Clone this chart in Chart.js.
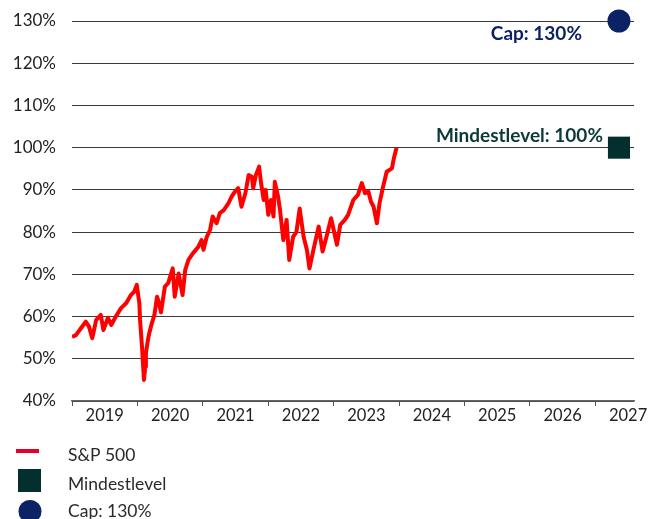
<!DOCTYPE html>
<html>
<head>
<meta charset="utf-8">
<script src="https://cdn.jsdelivr.net/npm/chart.js@4.4.1/dist/chart.umd.min.js"></script>
<style>
  html, body { margin: 0; padding: 0; background: #fff; }
  #wrap { width: 651px; height: 519px; position: relative; }
</style>
</head>
<body>
<div id="wrap"><canvas id="chart"></canvas></div>
<script>
// S&P 500: x in fractional years, y in % of the end level
const spxDates = [
  2019.00, 2019.06, 2019.14, 2019.21, 2019.26, 2019.31, 2019.37, 2019.44, 2019.48, 2019.55,
  2019.60, 2019.67, 2019.75, 2019.83, 2019.90, 2019.95, 2019.99, 2020.03, 2020.04, 2020.07,
  2020.10, 2020.12, 2020.13, 2020.16, 2020.18, 2020.22, 2020.26, 2020.30, 2020.33, 2020.36,
  2020.42, 2020.47, 2020.54, 2020.57, 2020.63, 2020.69, 2020.73, 2020.78, 2020.85, 2020.93,
  2020.98, 2021.01, 2021.06, 2021.11, 2021.15, 2021.21, 2021.26, 2021.32, 2021.39, 2021.44,
  2021.49, 2021.54, 2021.59, 2021.65, 2021.70, 2021.75, 2021.77, 2021.81, 2021.86, 2021.89,
  2021.93, 2021.96, 2022.00, 2022.04, 2022.08, 2022.10, 2022.15, 2022.18, 2022.23, 2022.28,
  2022.32, 2022.38, 2022.43, 2022.48, 2022.54, 2022.59, 2022.63, 2022.69, 2022.77, 2022.83,
  2022.89, 2022.96, 2023.00, 2023.05, 2023.10, 2023.17, 2023.22, 2023.30, 2023.37, 2023.43,
  2023.48, 2023.53, 2023.57, 2023.61, 2023.66, 2023.70, 2023.75, 2023.81, 2023.89, 2023.92,
  2023.96
];
const spxValues = [
  55.2, 55.6, 57.3, 58.8, 57.6, 54.9, 59.2, 60.4, 56.8, 59.7,
  58.0, 60.0, 62.0, 63.2, 65.1, 65.9, 67.5, 63.1, 59.2, 52.9,
  45.0, 48.1, 51.4, 54.4, 56.0, 58.4, 60.4, 64.7, 63.2, 61.0,
  67.1, 67.9, 71.4, 64.7, 70.2, 65.1, 71.0, 73.4, 75.0, 76.5,
  78.1, 75.8, 78.9, 80.5, 83.7, 82.1, 84.5, 85.2, 86.8, 88.4,
  89.6, 90.4, 86.0, 89.2, 93.5, 93.1, 90.4, 93.5, 95.5, 91.6,
  87.6, 90.0, 84.1, 87.6, 83.7, 91.9, 88.4, 85.2, 78.1, 82.9,
  73.4, 78.9, 80.0, 85.6, 78.9, 75.8, 71.4, 75.8, 81.3, 75.4,
  78.9, 83.3, 80.5, 77.0, 81.7, 82.9, 84.1, 87.6, 88.8, 91.6,
  89.2, 89.6, 87.2, 86.0, 82.1, 86.8, 90.4, 94.3, 95.1, 97.5,
  100.0
];

// markers at the right edge
const minLevelDates = [2027.36];
const minLevelValues = [100];
const capDates = [2027.36];
const capValues = [130];

const yearTicks = [2019, 2020, 2021, 2022, 2023, 2024, 2025, 2026, 2027];

const RED = '#ff0000';
const GREEN = '#032f2f';
const NAVY = '#0b2364';
const FONT = 'Lato, "Open Sans", sans-serif';

function toPoints(xs, ys) {
  return xs.map((x, i) => ({ x: x, y: ys[i] }));
}

// text next to the two markers
const markerNotes = {
  id: 'markerNotes',
  afterDatasetsDraw(chart, args, opts) {
    const ctx = chart.ctx;
    ctx.save();
    ctx.font = 'bold 19px ' + FONT;
    ctx.textAlign = 'right';
    ctx.textBaseline = 'middle';
    opts.notes.forEach(n => {
      const pt = chart.getDatasetMeta(n.dataset).data[0];
      ctx.fillStyle = n.color;
      ctx.fillText(n.text, pt.x + n.dx, pt.y + n.dy);
    });
    ctx.restore();
  }
};

// legend stacked one item per row under the axis
const stackedLegend = {
  id: 'stackedLegend',
  afterDraw(chart) {
    const ctx = chart.ctx;
    const sets = chart.data.datasets;
    ctx.save();
    // line
    ctx.fillStyle = '#e60028';
    ctx.fillRect(16, 449, 23, 4);
    // square
    ctx.fillStyle = sets[1].backgroundColor;
    ctx.fillRect(18, 469, 23, 23);
    // circle
    ctx.fillStyle = sets[2].backgroundColor;
    ctx.beginPath();
    ctx.arc(30, 511.5, 11.5, 0, Math.PI * 2);
    ctx.fill();

    ctx.fillStyle = '#2a2a2a';
    ctx.font = '17.5px ' + FONT;
    ctx.textAlign = 'left';
    ctx.textBaseline = 'middle';
    ctx.fillText(sets[0].label, 68, 455);
    ctx.fillText(sets[1].label, 68, 484);
    ctx.fillText(sets[2].label, 68, 511);
    ctx.restore();
  }
};

const ctx = document.getElementById('chart').getContext('2d');
new Chart(ctx, {
  type: 'scatter',
  data: {
    datasets: [
      {
        label: 'S&P 500',
        data: toPoints(spxDates, spxValues),
        showLine: true,
        borderColor: RED,
        borderWidth: 4,
        borderJoinStyle: 'round',
        pointRadius: 0,
        tension: 0,
      },
      {
        label: 'Mindestlevel',
        data: toPoints(minLevelDates, minLevelValues),
        pointStyle: 'rect',
        pointRadius: 15.6,
        backgroundColor: GREEN,
        borderWidth: 0,
        clip: false,
      },
      {
        label: 'Cap: 130%',
        data: toPoints(capDates, capValues),
        pointStyle: 'circle',
        pointRadius: 11.5,
        backgroundColor: NAVY,
        borderWidth: 0,
        clip: false,
      },
    ],
  },
  options: {
    responsive: true,
    maintainAspectRatio: false,
    animation: false,
    layout: { padding: { left: 0, right: 17, top: 21, bottom: 88 } },
    plugins: {
      legend: { display: false },
      tooltip: { enabled: false },
      markerNotes: {
        notes: [
          { dataset: 2, text: 'Cap: 130%', dx: -37, dy: 13, color: NAVY },
          { dataset: 1, text: 'Mindestlevel: 100%', dx: -16, dy: -12, color: '#0b3838' },
        ],
      },
    },
    scales: {
      x: {
        type: 'linear',
        min: 2019,
        max: 2027.59,
        afterBuildTicks: s => { s.ticks = yearTicks.map(v => ({ value: v })); },
        afterFit: s => { s.height = 30; },
        grid: { display: true, drawOnChartArea: false, drawTicks: true, tickLength: 5, color: '#555' },
        border: { display: true, color: '#666', width: 1.5 },
        ticks: {
          autoSkip: false,
          maxRotation: 0,
          padding: 0,
          labelOffset: 32.7,
          color: '#222',
          font: { family: FONT, size: 16.5 },
          callback: v => String(v),
        },
      },
      y: {
        min: 40,
        max: 130,
        afterFit: s => { s.width = 72; },
        // invisible tick marks hold the gap between labels and plot
        grid: { color: '#3a3a3a', lineWidth: 1, drawTicks: true, tickLength: 16, tickColor: 'rgba(0,0,0,0)' },
        border: { display: false },
        ticks: {
          stepSize: 10,
          padding: 0,
          color: '#222',
          font: { family: FONT, size: 17 },
          callback: v => v + '%',
        },
      },
    },
  },
  plugins: [markerNotes, stackedLegend],
});
</script>
</body>
</html>
